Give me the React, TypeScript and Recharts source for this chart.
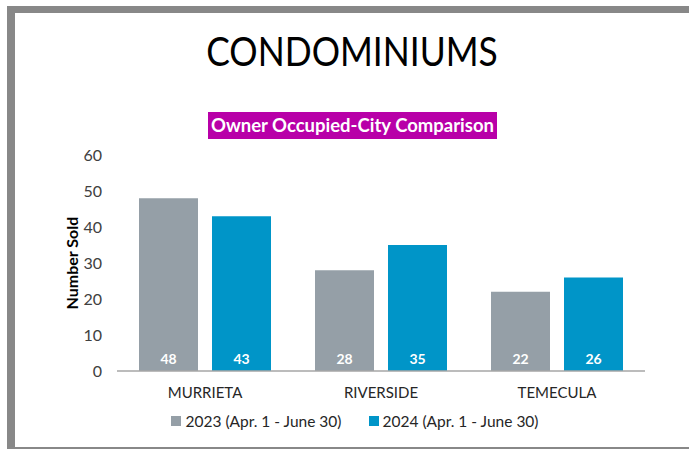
import React from 'react';
import { BarChart, Bar, XAxis, YAxis, LabelList, Legend } from 'recharts';

const categories = ['MURRIETA', 'RIVERSIDE', 'TEMECULA'];
const values2023 = [48, 28, 22];
const values2024 = [43, 35, 26];
const yTicks = [0, 10, 20, 30, 40, 50, 60];
const seriesNames = ['2023 (Apr. 1 - June 30)', '2024 (Apr. 1 - June 30)'];
const seriesColors = ['#959fa7', '#0095c8'];
const titleText = 'CONDOMINIUMS';
const subtitleText = 'Owner Occupied-City Comparison';
const yLabel = 'Number Sold';

const data = categories.map((c, i) => ({ city: c, s2023: values2023[i], s2024: values2024[i] }));

const FONT = 'Lato, "Open Sans", sans-serif';

const LegendContent = () => (
  <div style={{ display: 'flex', justifyContent: 'center', fontFamily: FONT, fontSize: 15.5, color: '#262626', height: 20, lineHeight: '20px' }}>
    {seriesNames.map((n, i) => (
      <div key={n} style={{ display: 'flex', alignItems: 'center', marginRight: i === 0 ? 27 : 0 }}>
        <div style={{ width: 10, height: 10, background: seriesColors[i], marginRight: 4 }} />
        <span>{n}</span>
      </div>
    ))}
  </div>
);

export default function App() {
  return (
    <div style={{ position: 'fixed', left: 0, top: 0, width: 689, height: 449, background: '#fff', overflow: 'hidden' }}>
      <div style={{ position: 'absolute', left: 7, top: 6, width: 800, height: 7, background: '#888' }} />
      <div style={{ position: 'absolute', left: 7, top: 6, width: 8, height: 460, background: '#888' }} />
      <div style={{ position: 'absolute', left: 7, top: 447, width: 800, height: 8, background: '#888' }} />
      <div style={{ position: 'absolute', left: 0, top: 26, width: 704, textAlign: 'center', fontFamily: FONT, fontSize: 40, color: '#000', lineHeight: '50px', transform: 'scaleX(0.885)', transformOrigin: '352px 0' }}>
        {titleText}
      </div>
      <div style={{ position: 'absolute', left: 208, top: 112, width: 289, height: 27, background: '#b800a8', color: '#fff', fontFamily: FONT, fontWeight: 700, fontSize: 18.5, lineHeight: '27px', textAlign: 'center', whiteSpace: 'nowrap' }}>
        {subtitleText}
      </div>
      <div style={{ position: 'absolute', left: 0, top: 0 }}>
        <BarChart width={689} height={449} data={data} margin={{ top: 155, right: 44, bottom: 28, left: 57 }} barSize={59} barGap={14}>
          <XAxis dataKey="city" axisLine={{ stroke: '#a6a6a6', strokeWidth: 1.5 }} tickLine={false} tickSize={0} tickMargin={16} height={30}
            tick={{ fill: '#262626', fontSize: 15, fontFamily: FONT }} />
          <YAxis domain={[0, 60]} ticks={yTicks} width={60} axisLine={false} tickLine={false} tickSize={0} tickMargin={15}
            tick={{ fill: '#404040', fontSize: 16, fontFamily: FONT }}
            label={{ value: yLabel, angle: -90, position: 'insideLeft', offset: 15, style: { textAnchor: 'middle', fontFamily: FONT, fontWeight: 700, fontSize: 16, fill: '#000' } }} />
          <Legend verticalAlign="bottom" content={<LegendContent />} wrapperStyle={{ position: 'absolute', left: 0, top: 411, width: 710 }} />
          <Bar dataKey="s2023" name={seriesNames[0]} fill={seriesColors[0]} isAnimationActive={false}>
            <LabelList dataKey="s2023" position="insideBottom" offset={7} style={{ fill: '#fff', fontWeight: 700, fontSize: 14, fontFamily: FONT }} />
          </Bar>
          <Bar dataKey="s2024" name={seriesNames[1]} fill={seriesColors[1]} isAnimationActive={false}>
            <LabelList dataKey="s2024" position="insideBottom" offset={7} style={{ fill: '#fff', fontWeight: 700, fontSize: 14, fontFamily: FONT }} />
          </Bar>
        </BarChart>
      </div>
    </div>
  );
}
